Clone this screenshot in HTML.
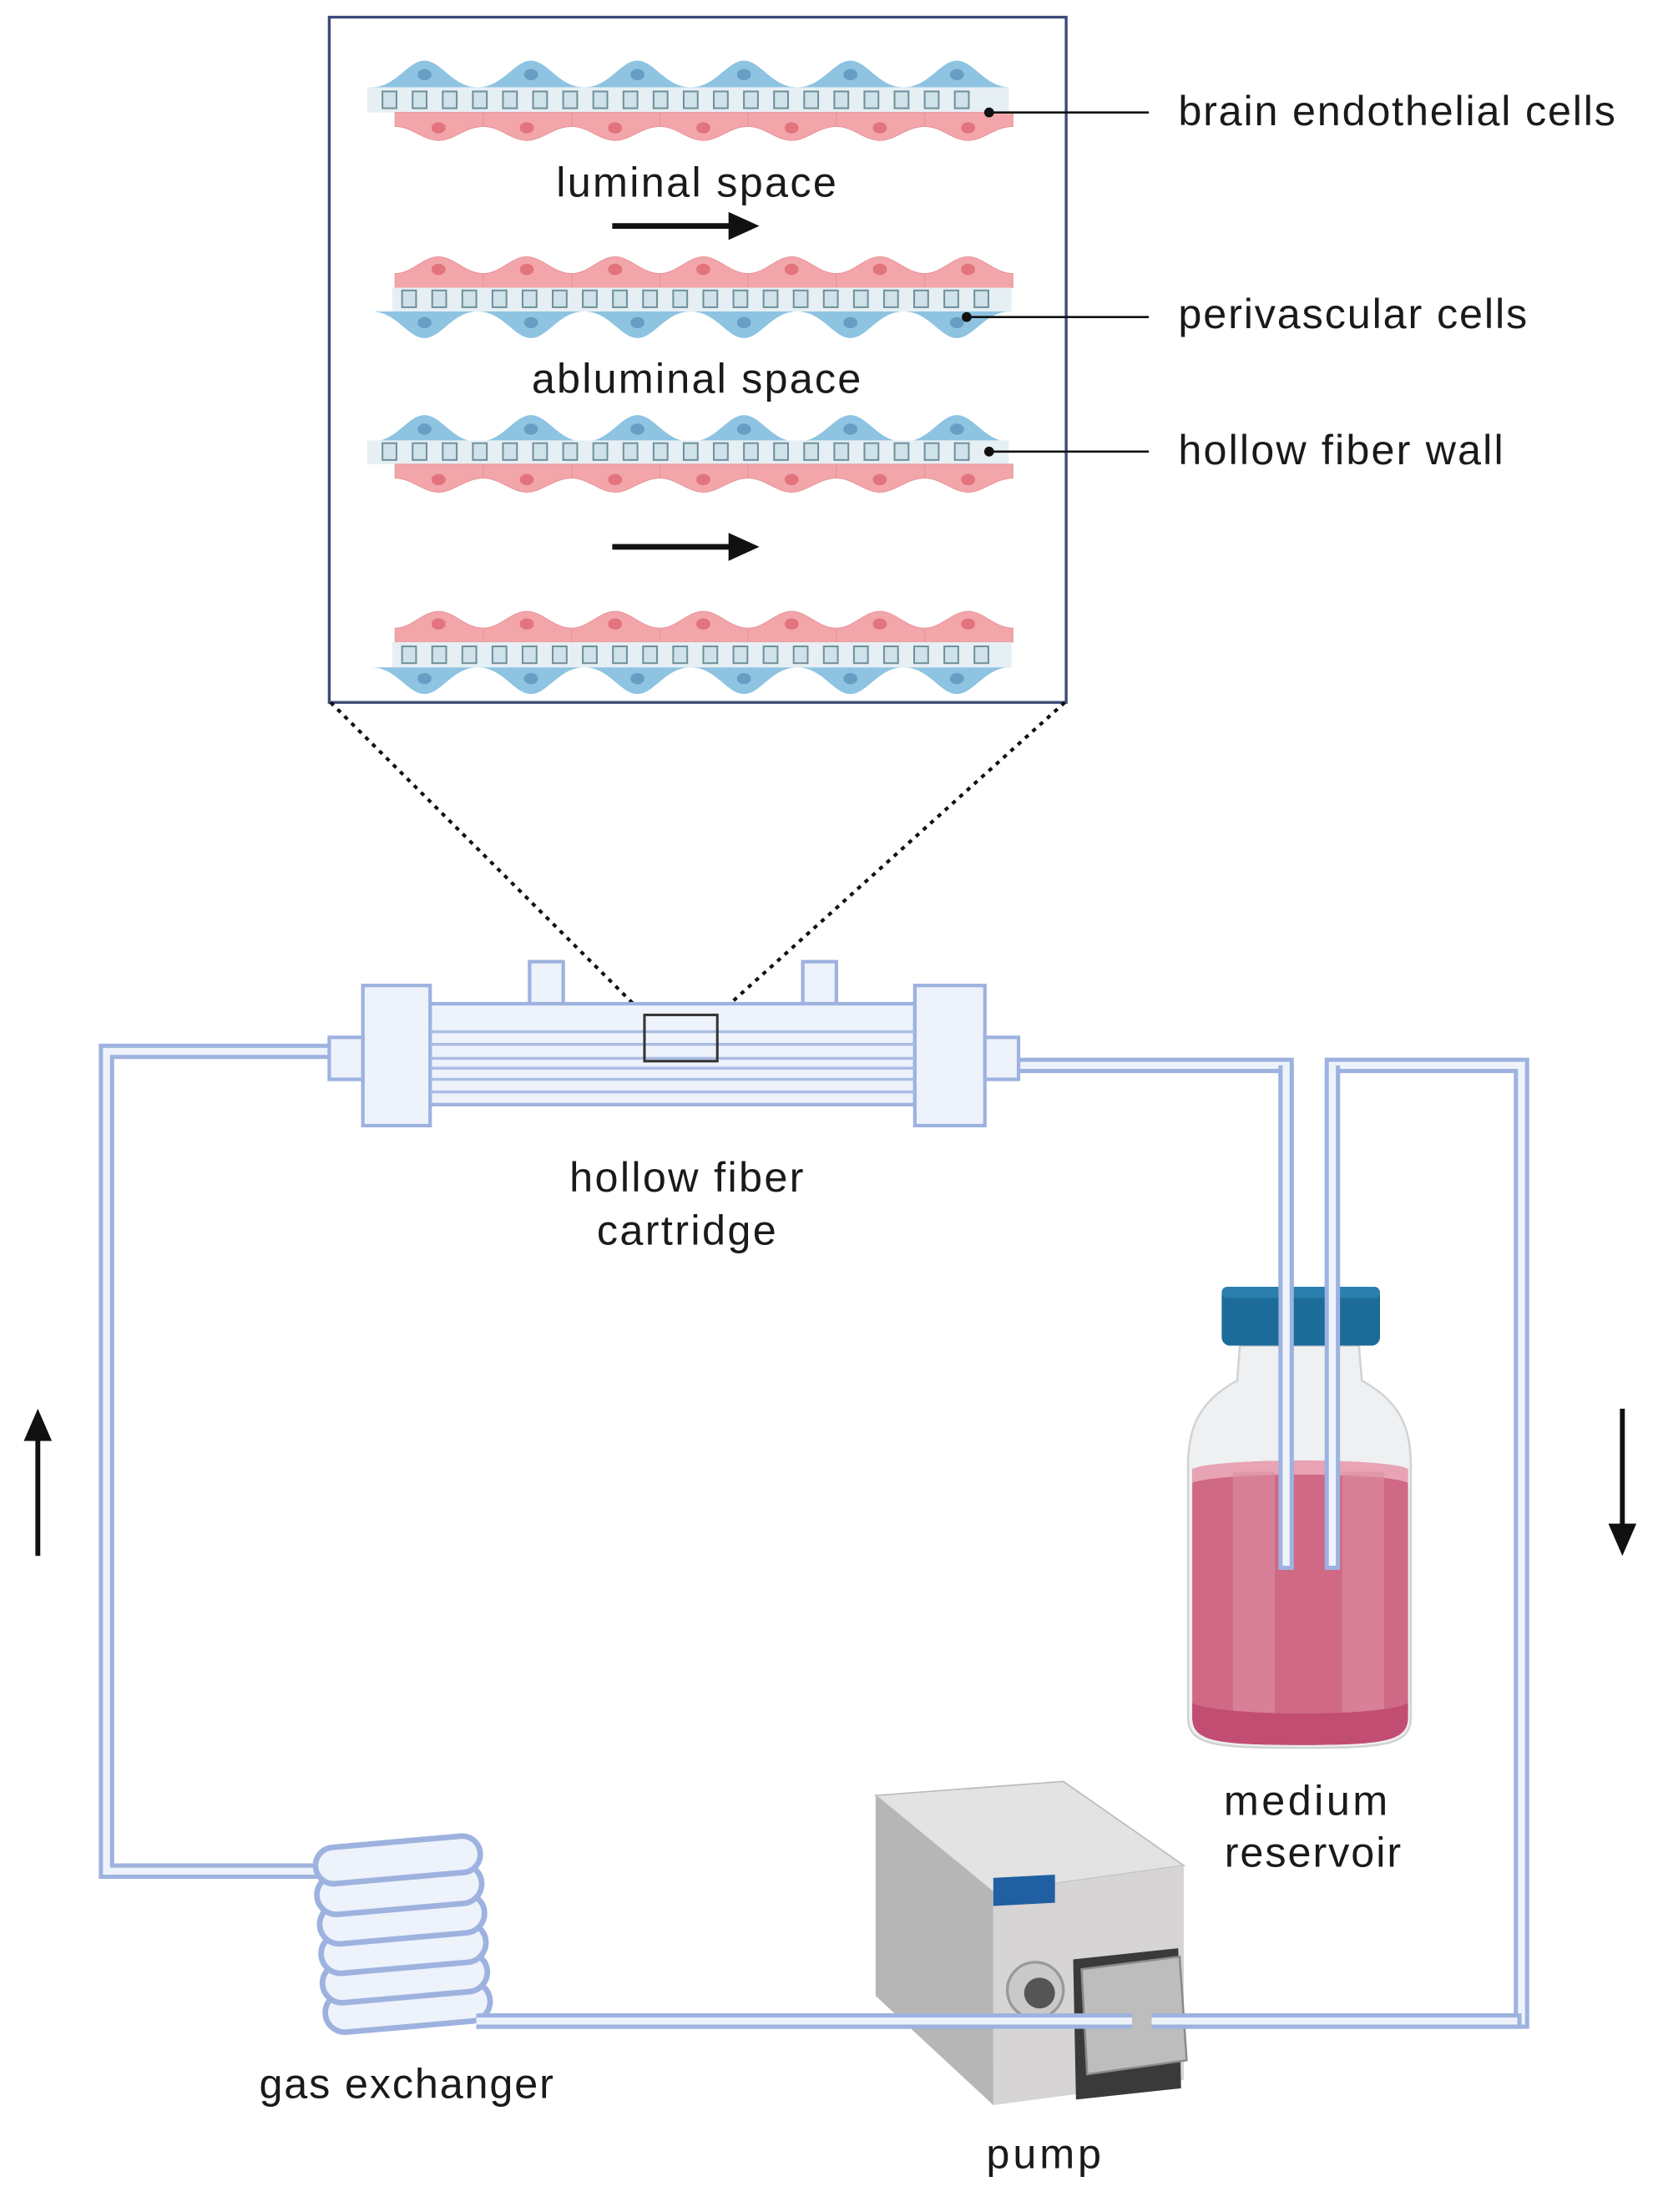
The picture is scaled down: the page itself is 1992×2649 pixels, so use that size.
<!DOCTYPE html>
<html><head><meta charset="utf-8"><style>
html,body{margin:0;padding:0;background:#fff;}
svg{display:block;}
text{font-family:"Liberation Sans",sans-serif;fill:#1a1a1a;}
</style></head><body>
<svg width="1992" height="2649" viewBox="0 0 1187 1578" xmlns="http://www.w3.org/2000/svg">
<defs>
<g id="bu"><path d="M0,20 C18,20 26,1 38,1 C50,1 58,20 76,20 Z" fill="#8ec3e2"/><ellipse cx="38" cy="11" rx="5" ry="4" fill="#679fc4"/></g>
<g id="bd"><path d="M0,0 C18,0 26,19 38,19 C50,19 58,0 76,0 Z" fill="#8ec3e2"/><ellipse cx="38" cy="8" rx="5" ry="4" fill="#679fc4"/></g>
<g id="pu"><path d="M0,22 L0,12 C12,12 20,0 31,0 C42,0 50,12 63,12 L63,22 Z" fill="#f2a6aa" stroke="#e8959b" stroke-width="0.6"/><ellipse cx="31" cy="9" rx="5" ry="4" fill="#e3737c"/></g>
<g id="pd"><path d="M0,0 L0,10 C12,10 20,20 31,20 C42,20 50,10 63,10 L63,0 Z" fill="#f2a6aa" stroke="#e8959b" stroke-width="0.6"/><ellipse cx="31" cy="11" rx="5" ry="4" fill="#e3737c"/></g>
<g id="sq" fill="#cfe1e9" stroke="#6f909c" stroke-width="1.2">
<rect x="5" y="3" width="10" height="12"/><rect x="26.5" y="3" width="10" height="12"/><rect x="48" y="3" width="10" height="12"/><rect x="69.5" y="3" width="10" height="12"/><rect x="91" y="3" width="10" height="12"/><rect x="112.5" y="3" width="10" height="12"/><rect x="134" y="3" width="10" height="12"/><rect x="155.5" y="3" width="10" height="12"/><rect x="177" y="3" width="10" height="12"/><rect x="198.5" y="3" width="10" height="12"/><rect x="220" y="3" width="10" height="12"/><rect x="241.5" y="3" width="10" height="12"/><rect x="263" y="3" width="10" height="12"/><rect x="284.5" y="3" width="10" height="12"/><rect x="306" y="3" width="10" height="12"/><rect x="327.5" y="3" width="10" height="12"/><rect x="349" y="3" width="10" height="12"/><rect x="370.5" y="3" width="10" height="12"/><rect x="392" y="3" width="10" height="12"/><rect x="413.5" y="3" width="10" height="12"/>
</g>
</defs>

<rect x="235" y="12" width="526" height="489" fill="#fff" stroke="#3d4a78" stroke-width="2"/>

<!-- row1 -->
<use href="#bu" x="265" y="42"/><use href="#bu" x="341" y="42"/><use href="#bu" x="417" y="42"/><use href="#bu" x="493" y="42"/><use href="#bu" x="569" y="42"/><use href="#bu" x="645" y="42"/>
<rect x="262" y="62" width="458" height="18" fill="#e6eff3"/>
<use href="#sq" x="268" y="62"/>
<use href="#pd" x="282" y="80"/><use href="#pd" x="345" y="80"/><use href="#pd" x="408" y="80"/><use href="#pd" x="471" y="80"/><use href="#pd" x="534" y="80"/><use href="#pd" x="597" y="80"/><use href="#pd" x="660" y="80"/>
<!-- row2 -->
<use href="#pu" x="282" y="183"/><use href="#pu" x="345" y="183"/><use href="#pu" x="408" y="183"/><use href="#pu" x="471" y="183"/><use href="#pu" x="534" y="183"/><use href="#pu" x="597" y="183"/><use href="#pu" x="660" y="183"/>
<rect x="280" y="205" width="442" height="17" fill="#e6eff3"/>
<use href="#sq" x="282" y="204"/>
<use href="#bd" x="265" y="222"/><use href="#bd" x="341" y="222"/><use href="#bd" x="417" y="222"/><use href="#bd" x="493" y="222"/><use href="#bd" x="569" y="222"/><use href="#bd" x="645" y="222"/>
<!-- row3 -->
<use href="#bu" x="265" y="295"/><use href="#bu" x="341" y="295"/><use href="#bu" x="417" y="295"/><use href="#bu" x="493" y="295"/><use href="#bu" x="569" y="295"/><use href="#bu" x="645" y="295"/>
<rect x="262" y="314" width="458" height="17" fill="#e6eff3"/>
<use href="#sq" x="268" y="313"/>
<use href="#pd" x="282" y="331"/><use href="#pd" x="345" y="331"/><use href="#pd" x="408" y="331"/><use href="#pd" x="471" y="331"/><use href="#pd" x="534" y="331"/><use href="#pd" x="597" y="331"/><use href="#pd" x="660" y="331"/>
<!-- row4 -->
<use href="#pu" x="282" y="436"/><use href="#pu" x="345" y="436"/><use href="#pu" x="408" y="436"/><use href="#pu" x="471" y="436"/><use href="#pu" x="534" y="436"/><use href="#pu" x="597" y="436"/><use href="#pu" x="660" y="436"/>
<rect x="280" y="458" width="442" height="18" fill="#e6eff3"/>
<use href="#sq" x="282" y="458"/>
<use href="#bd" x="265" y="476"/><use href="#bd" x="341" y="476"/><use href="#bd" x="417" y="476"/><use href="#bd" x="493" y="476"/><use href="#bd" x="569" y="476"/><use href="#bd" x="645" y="476"/>

<text x="497" y="140" font-size="30" text-anchor="middle" textLength="200">luminal space</text>
<text x="497" y="280" font-size="30" text-anchor="middle" textLength="235">abluminal space</text>
<line x1="437" y1="161" x2="522" y2="161" stroke="#111" stroke-width="4"/>
<path d="M520,151 L542,161 L520,171 Z" fill="#111"/>
<line x1="437" y1="390" x2="522" y2="390" stroke="#111" stroke-width="4"/>
<path d="M520,380 L542,390 L520,400 Z" fill="#111"/>

<circle cx="706" cy="80" r="3.5" fill="#111"/><line x1="706" y1="80" x2="820" y2="80" stroke="#111" stroke-width="1.6"/>
<circle cx="690" cy="226" r="3.5" fill="#111"/><line x1="690" y1="226" x2="820" y2="226" stroke="#111" stroke-width="1.6"/>
<circle cx="706" cy="322" r="3.5" fill="#111"/><line x1="706" y1="322" x2="820" y2="322" stroke="#111" stroke-width="1.6"/>
<text x="841" y="89" font-size="30" textLength="312">brain endothelial cells</text>
<text x="841" y="234" font-size="30" textLength="249">perivascular cells</text>
<text x="841" y="331" font-size="30" textLength="232">hollow fiber wall</text>

<line x1="236" y1="501" x2="462" y2="726" stroke="#111" stroke-width="2.5" stroke-dasharray="3,4"/>
<line x1="760" y1="501" x2="510" y2="726" stroke="#111" stroke-width="2.5" stroke-dasharray="3,4"/>

<g fill="none">
<g stroke="#9db2df" stroke-width="11">
<path d="M235,750 L76,750 L76,1335 L330,1335"/>
<path d="M727,760 L918,760 L918,1120"/>
<path d="M951,1120 L951,760 L1086,760 L1086,1442 L340,1442"/>
</g>
<g stroke="#eef3fb" stroke-width="5">
<path d="M235,750 L76,750 L76,1335 L330,1335"/>
<path d="M727,760 L918,760 L918,1120"/>
<path d="M951,1120 L951,760 L1086,760 L1086,1442 L340,1442"/>
</g>
</g>

<g stroke="#9db2df" stroke-width="2.5" fill="#edf2fb">
<rect x="378" y="686" width="24" height="32"/>
<rect x="573" y="686" width="24" height="32"/>
<rect x="307" y="716" width="346" height="72"/>
<rect x="259" y="703" width="48" height="100"/>
<rect x="653" y="703" width="50" height="100"/>
<rect x="235" y="740" width="24" height="30"/>
<rect x="703" y="740" width="24" height="30"/>
</g>
<g stroke="#a9bce3" stroke-width="2">
<line x1="307" y1="736" x2="653" y2="736"/><line x1="307" y1="745" x2="653" y2="745"/>
<line x1="307" y1="755" x2="653" y2="755"/><line x1="307" y1="762" x2="653" y2="762"/>
<line x1="307" y1="770" x2="653" y2="770"/><line x1="307" y1="779" x2="653" y2="779"/>
</g>
<rect x="460" y="724" width="52" height="33" fill="none" stroke="#333" stroke-width="1.8"/>
<text x="490" y="850" font-size="30" text-anchor="middle" textLength="167">hollow fiber</text>
<text x="490" y="888" font-size="30" text-anchor="middle" textLength="128">cartridge</text>

<line x1="27" y1="1110" x2="27" y2="1025" stroke="#111" stroke-width="3.5"/>
<path d="M17,1028 L27,1005 L37,1028 Z" fill="#111"/>
<line x1="1158" y1="1005" x2="1158" y2="1090" stroke="#111" stroke-width="3.5"/>
<path d="M1148,1087 L1158,1110 L1168,1087 Z" fill="#111"/>

<path d="M885,960 L970,960 L972,985 C1000,1000 1007,1020 1007,1045 L1007,1225 C1007,1245 990,1247 928,1247 C866,1247 848,1245 848,1225 L848,1045 C848,1020 855,1000 883,985 Z" fill="#eef0f1" stroke="#cfd3d6" stroke-width="1.5"/>
<path d="M851,1048 C870,1040 990,1040 1005,1048 L1005,1225 C1005,1242 990,1245 928,1245 C866,1245 851,1242 851,1225 Z" fill="#cf6985"/>
<path d="M851,1048 C870,1040 990,1040 1005,1048 L1005,1058 C990,1050 870,1050 851,1058 Z" fill="#e8a3b4"/>
<rect x="880" y="1050" width="30" height="185" fill="#dc8fa3" opacity="0.6"/>
<rect x="958" y="1050" width="30" height="185" fill="#dc8fa3" opacity="0.6"/>
<path d="M851,1215 C870,1225 990,1225 1005,1215 L1005,1225 C1005,1242 990,1245 928,1245 C866,1245 851,1242 851,1225 Z" fill="#c24d72"/>
<rect x="872" y="918" width="113" height="42" rx="6" fill="#1c6b98"/>
<rect x="872" y="918" width="113" height="8" rx="4" fill="#2a7fae"/>
<g fill="none">
<path d="M918,760 L918,1120 M951,760 L951,1120" stroke="#9db2df" stroke-width="11"/>
<path d="M918,760 L918,1117 M951,760 L951,1117" stroke="#eef3fb" stroke-width="5"/>
</g>
<text x="932" y="1295" font-size="30" text-anchor="middle" textLength="117">medium</text>
<text x="937" y="1332" font-size="30" text-anchor="middle" textLength="126">reservoir</text>

<g fill="#edf2fb" stroke="#9db2df" stroke-width="4">
<rect x="232" y="1418" width="118" height="28" rx="14" transform="rotate(-5 291 1432)"/>
<rect x="230" y="1397" width="118" height="28" rx="14" transform="rotate(-5 289 1411)"/>
<rect x="229" y="1376" width="118" height="28" rx="14" transform="rotate(-5 288 1390)"/>
<rect x="228" y="1355" width="118" height="28" rx="14" transform="rotate(-5 287 1369)"/>
<rect x="226" y="1334" width="118" height="28" rx="14" transform="rotate(-5 285 1348)"/>
<rect x="225" y="1314" width="118" height="26" rx="13" transform="rotate(-5 284 1327)"/>
</g>
<text x="290" y="1497" font-size="30" text-anchor="middle" textLength="210">gas exchanger</text>

<path d="M625,1281 L759,1271 L845,1331 L709,1350 Z" fill="#e3e3e3" stroke="#bbb" stroke-width="1"/>
<path d="M625,1281 L709,1350 L709,1502 L625,1424 Z" fill="#b6b6b6"/>
<path d="M709,1350 L845,1331 L845,1484 L709,1502 Z" fill="#d6d4d4"/>
<rect x="709" y="1340" width="44" height="20" fill="#1f5fa2" transform="skewY(-3) translate(0,37)"/>
<circle cx="739" cy="1420" r="20" fill="#c9c9c9" stroke="#999" stroke-width="2"/>
<circle cx="742" cy="1422" r="11" fill="#555"/>
<path d="M766,1398 L841,1390 L843,1490 L768,1498 Z" fill="#3a3a3a"/>
<path d="M772,1405 L842,1396 L847,1470 L776,1480 Z" fill="#bdbdbd" stroke="#8a8a8a" stroke-width="1.5"/>
<path d="M340,1442 L808,1442" stroke="#9db2df" stroke-width="11" fill="none"/>
<path d="M340,1442 L808,1442" stroke="#eef3fb" stroke-width="5" fill="none"/>
<path d="M822,1442 L1086,1442" stroke="#9db2df" stroke-width="11" fill="none"/>
<path d="M822,1442 L1083,1442" stroke="#eef3fb" stroke-width="5" fill="none"/>
<text x="745" y="1547" font-size="30" text-anchor="middle" textLength="82">pump</text>
</svg>
</body></html>
